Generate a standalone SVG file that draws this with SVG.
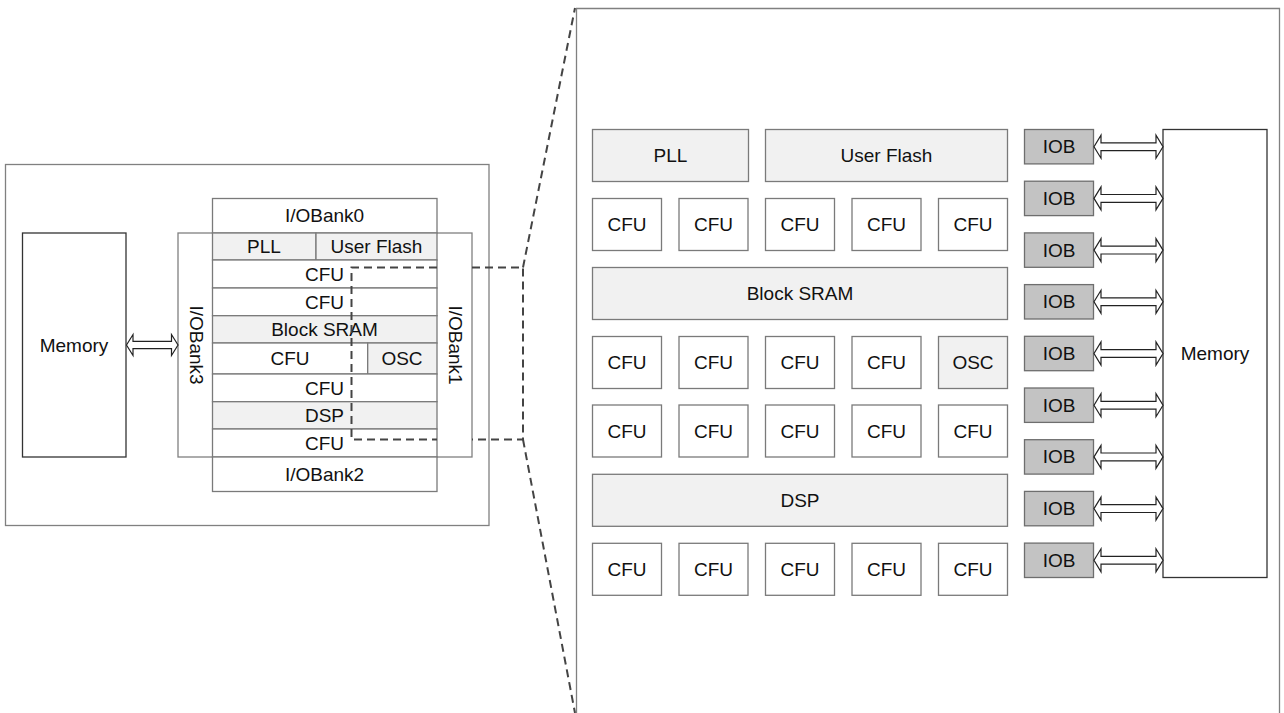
<svg xmlns="http://www.w3.org/2000/svg" width="1284" height="713" viewBox="0 0 1284 713">
<style>
text{font-family:"Liberation Sans",Arial,sans-serif;font-size:19px;fill:#111;text-anchor:middle;dominant-baseline:central}
.w{fill:#fff;stroke:#7a7a7a;stroke-width:1.3}
.g{fill:#f1f1f1;stroke:#7a7a7a;stroke-width:1.3}
.iob{fill:#c3c3c3;stroke:#6e6e6e;stroke-width:1.3}
.frame{fill:none;stroke:#808080;stroke-width:1.3}
.mem{fill:#fff;stroke:#333;stroke-width:1.3}
.dash{fill:none;stroke:#444;stroke-width:2;stroke-dasharray:8 5}
.arr{fill:#fff;stroke:#222;stroke-width:1.2;stroke-linejoin:miter}
</style>

<!-- left overview -->
<g id="left-frame"><rect class="frame" x="5.5" y="164.5" width="483.5" height="361"/></g>
<g id="left-memory"><rect class="mem" x="22.5" y="233" width="103.5" height="224"/><text x="74" y="345">Memory</text></g>
<g id="iobank-ring"><rect class="frame" x="178" y="233" width="294" height="224" stroke="#999"/></g>
<g id="iobank3"><text transform="translate(196,345) rotate(90)" x="0" y="0">I/OBank3</text></g>
<g id="iobank1"><text transform="translate(455,345) rotate(90)" x="0" y="0">I/OBank1</text></g>
<g id="fpga-column">
<rect class="w" x="212.5" y="198.5" width="224.5" height="34.5"/><text x="324.5" y="215.5">I/OBank0</text>
<rect class="g" x="212.5" y="233" width="103.5" height="27"/><text x="264" y="246.5">PLL</text>
<rect class="g" x="316" y="233" width="121" height="27"/><text x="376.5" y="246.5">User Flash</text>
<rect class="w" x="212.5" y="260" width="224.5" height="28"/><text x="324.5" y="274">CFU</text>
<rect class="w" x="212.5" y="288" width="224.5" height="27.7"/><text x="324.5" y="302">CFU</text>
<rect class="g" x="212.5" y="315.7" width="224.5" height="27.3"/><text x="324.5" y="329.5">Block SRAM</text>
<rect class="w" x="212.5" y="343" width="155.2" height="31"/><text x="290" y="358.5">CFU</text>
<rect class="g" x="367.7" y="343" width="69.3" height="31"/><text x="402" y="358.5">OSC</text>
<rect class="w" x="212.5" y="374" width="224.5" height="27.7"/><text x="324.5" y="388">CFU</text>
<rect class="g" x="212.5" y="401.7" width="224.5" height="27.3"/><text x="324.5" y="415.5">DSP</text>
<rect class="w" x="212.5" y="429" width="224.5" height="28"/><text x="324.5" y="443">CFU</text>
<rect class="w" x="212.5" y="457" width="224.5" height="34.5"/><text x="324.5" y="474">I/OBank2</text>
</g>

<!-- right detail -->
<g id="detail-frame"><path class="frame" d="M576.5 720 V8.5 H1279.5 V720" stroke="#666"/></g>
<g id="pll"><rect class="g" x="592.5" y="129.5" width="156" height="52"/><text x="670.5" y="155.5">PLL</text></g>
<g id="user-flash"><rect class="g" x="765.5" y="129.5" width="242" height="52"/><text x="886.5" y="155.5">User Flash</text></g>
<g id="cfu-row1">
<rect class="w" x="592.5" y="198.5" width="69" height="52"/><text x="627" y="224.5">CFU</text>
<rect class="w" x="679" y="198.5" width="69" height="52"/><text x="713.5" y="224.5">CFU</text>
<rect class="w" x="765.5" y="198.5" width="69" height="52"/><text x="800" y="224.5">CFU</text>
<rect class="w" x="852" y="198.5" width="69" height="52"/><text x="886.5" y="224.5">CFU</text>
<rect class="w" x="938.5" y="198.5" width="69" height="52"/><text x="973" y="224.5">CFU</text>
</g>
<g id="block-sram"><rect class="g" x="592.5" y="267.5" width="415" height="52"/><text x="800" y="293.5">Block SRAM</text></g>
<g id="cfu-row2">
<rect class="w" x="592.5" y="336.5" width="69" height="52"/><text x="627" y="362.5">CFU</text>
<rect class="w" x="679" y="336.5" width="69" height="52"/><text x="713.5" y="362.5">CFU</text>
<rect class="w" x="765.5" y="336.5" width="69" height="52"/><text x="800" y="362.5">CFU</text>
<rect class="w" x="852" y="336.5" width="69" height="52"/><text x="886.5" y="362.5">CFU</text>
<rect class="g" x="938.5" y="336.5" width="69" height="52"/><text x="973" y="362.5">OSC</text>
</g>
<g id="cfu-row3">
<rect class="w" x="592.5" y="405" width="69" height="52"/><text x="627" y="431">CFU</text>
<rect class="w" x="679" y="405" width="69" height="52"/><text x="713.5" y="431">CFU</text>
<rect class="w" x="765.5" y="405" width="69" height="52"/><text x="800" y="431">CFU</text>
<rect class="w" x="852" y="405" width="69" height="52"/><text x="886.5" y="431">CFU</text>
<rect class="w" x="938.5" y="405" width="69" height="52"/><text x="973" y="431">CFU</text>
</g>
<g id="dsp"><rect class="g" x="592.5" y="474.3" width="415" height="52"/><text x="800" y="500.3">DSP</text></g>
<g id="cfu-row4">
<rect class="w" x="592.5" y="543.3" width="69" height="52"/><text x="627" y="569.3">CFU</text>
<rect class="w" x="679" y="543.3" width="69" height="52"/><text x="713.5" y="569.3">CFU</text>
<rect class="w" x="765.5" y="543.3" width="69" height="52"/><text x="800" y="569.3">CFU</text>
<rect class="w" x="852" y="543.3" width="69" height="52"/><text x="886.5" y="569.3">CFU</text>
<rect class="w" x="938.5" y="543.3" width="69" height="52"/><text x="973" y="569.3">CFU</text>
</g>
<g id="iobs">
<rect class="iob" x="1024.5" y="129.5" width="69" height="34.4"/><text x="1059" y="146.7">IOB</text>
<rect class="iob" x="1024.5" y="181.2" width="69" height="34.4"/><text x="1059" y="198.4">IOB</text>
<rect class="iob" x="1024.5" y="232.9" width="69" height="34.4"/><text x="1059" y="250.1">IOB</text>
<rect class="iob" x="1024.5" y="284.6" width="69" height="34.4"/><text x="1059" y="301.8">IOB</text>
<rect class="iob" x="1024.5" y="336.3" width="69" height="34.4"/><text x="1059" y="353.5">IOB</text>
<rect class="iob" x="1024.5" y="388" width="69" height="34.4"/><text x="1059" y="405.2">IOB</text>
<rect class="iob" x="1024.5" y="439.7" width="69" height="34.4"/><text x="1059" y="456.9">IOB</text>
<rect class="iob" x="1024.5" y="491.4" width="69" height="34.4"/><text x="1059" y="508.6">IOB</text>
<rect class="iob" x="1024.5" y="543.1" width="69" height="34.4"/><text x="1059" y="560.3">IOB</text>
</g>
<g id="right-memory"><rect class="mem" x="1163" y="129.5" width="104" height="448"/><text x="1215" y="353.5">Memory</text></g>

<!-- connectors -->
<g id="connectors">
<path class="arr" d="M126.5 345 l6.5 -10.5 v6.8 h38.5 v-6.8 l6.5 10.5 l-6.5 10.5 v-6.8 h-38.5 v6.8 z"/>
<g id="iob-arrows">
<path class="arr" d="M1094 146.7 l7 -11.5 v7.6 h55 v-7.6 l7 11.5 l-7 11.5 v-7.6 h-55 v7.6 z"/>
<path class="arr" d="M1094 198.4 l7 -11.5 v7.6 h55 v-7.6 l7 11.5 l-7 11.5 v-7.6 h-55 v7.6 z"/>
<path class="arr" d="M1094 250.1 l7 -11.5 v7.6 h55 v-7.6 l7 11.5 l-7 11.5 v-7.6 h-55 v7.6 z"/>
<path class="arr" d="M1094 301.8 l7 -11.5 v7.6 h55 v-7.6 l7 11.5 l-7 11.5 v-7.6 h-55 v7.6 z"/>
<path class="arr" d="M1094 353.5 l7 -11.5 v7.6 h55 v-7.6 l7 11.5 l-7 11.5 v-7.6 h-55 v7.6 z"/>
<path class="arr" d="M1094 405.2 l7 -11.5 v7.6 h55 v-7.6 l7 11.5 l-7 11.5 v-7.6 h-55 v7.6 z"/>
<path class="arr" d="M1094 456.9 l7 -11.5 v7.6 h55 v-7.6 l7 11.5 l-7 11.5 v-7.6 h-55 v7.6 z"/>
<path class="arr" d="M1094 508.6 l7 -11.5 v7.6 h55 v-7.6 l7 11.5 l-7 11.5 v-7.6 h-55 v7.6 z"/>
<path class="arr" d="M1094 560.3 l7 -11.5 v7.6 h55 v-7.6 l7 11.5 l-7 11.5 v-7.6 h-55 v7.6 z"/>
</g>
<g id="zoom-outline">
<path class="dash" d="M437 267.5 H351.5 V439.5 H437"/>
<path class="dash" d="M472 267.5 H523 V439.5 H472"/>
<path class="dash" d="M523 267.5 L575 8"/>
<path class="dash" d="M523 439.5 L575 713"/>
</g>
</g>
</svg>
